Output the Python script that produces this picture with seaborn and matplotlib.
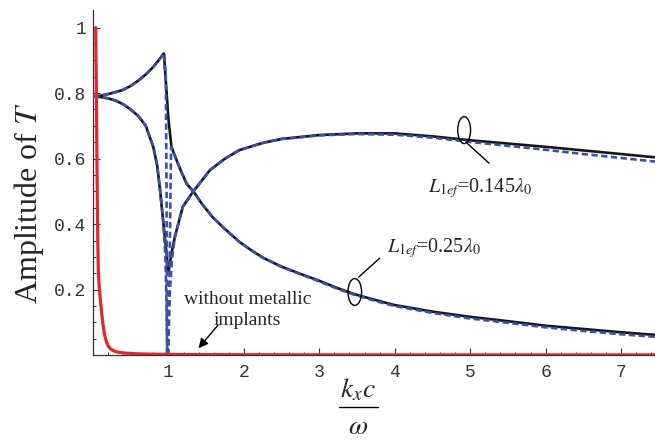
import seaborn as sns
import pandas as pd
import matplotlib.pyplot as plt
from matplotlib.patches import Ellipse
from matplotlib.lines import Line2D

# without metallic implants (red)
red_x = [0.035, 0.045, 0.052, 0.058, 0.064, 0.07, 0.08, 0.093, 0.105, 0.115, 0.13, 0.145,
         0.16, 0.18, 0.2, 0.225, 0.26, 0.3, 0.36, 0.45, 0.6, 0.8, 1.2, 2.0, 4.0, 7.45]
red_y = [1.0, 0.8, 0.6, 0.45, 0.34, 0.26, 0.215, 0.18, 0.152, 0.128, 0.097, 0.073,
         0.056, 0.039, 0.029, 0.021, 0.015, 0.011, 0.008, 0.006, 0.004, 0.003, 0.002, 0.0015, 0.001, 0.001]

# L1ef = 0.25 lambda0, solid black
a_x = [0, 0.1, 0.2, 0.3, 0.4, 0.5, 0.6, 0.7, 0.8, 0.87, 0.94, 0.97, 1.0, 1.04, 1.1, 1.17, 1.24,
       1.33, 1.45, 1.59, 1.75, 1.94, 2.1, 2.25, 2.5, 2.74, 3.0, 3.25, 3.47, 3.75, 4.0, 4.5, 5.0,
       5.38, 5.75, 6.0, 6.5, 7.0, 7.45]
a_y = [0.79, 0.792, 0.797, 0.803, 0.81, 0.822, 0.838, 0.857, 0.88, 0.9, 0.921, 0.82, 0.72, 0.636,
       0.6, 0.56, 0.524, 0.5, 0.46, 0.42, 0.385, 0.346, 0.32, 0.298, 0.27, 0.249, 0.227, 0.204,
       0.186, 0.168, 0.153, 0.133, 0.117, 0.107, 0.097, 0.09, 0.08, 0.07, 0.062]

# L1ef = 0.25 lambda0, dashed blue (two pieces)
a_blue1_x = [0, 0.1, 0.2, 0.3, 0.4, 0.5, 0.6, 0.7, 0.8, 0.87, 0.94, 0.965, 0.975, 0.98]
a_blue1_y = [0.79, 0.792, 0.797, 0.803, 0.81, 0.822, 0.838, 0.857, 0.88, 0.9, 0.921, 0.85, 0.5, 0.0]
a_blue2_x = [1.0, 1.035, 1.1, 1.17, 1.24, 1.33, 1.45, 1.59, 1.75, 1.94, 2.1, 2.25, 2.5, 2.74,
             3.0, 3.25, 3.47, 3.75, 4.0, 4.5, 5.0, 5.38, 5.75, 6.0, 6.5, 7.0, 7.45]
a_blue2_y = [0.0, 0.636, 0.6, 0.56, 0.524, 0.5, 0.46, 0.42, 0.385, 0.346, 0.32, 0.298, 0.27, 0.248,
             0.225, 0.202, 0.184, 0.165, 0.15, 0.129, 0.112, 0.102, 0.092, 0.085, 0.074, 0.064, 0.056]

# L1ef = 0.145 lambda0, solid black
b_x = [0, 0.1, 0.2, 0.3, 0.4, 0.5, 0.6, 0.7, 0.8, 0.85, 0.886, 0.93, 0.975, 1.0, 1.04, 1.085,
       1.19, 1.33, 1.55, 1.75, 1.94, 2.25, 2.5, 3.0, 3.5, 4.0, 4.5, 5.0, 5.5, 6.0, 6.5, 7.0, 7.45]
b_y = [0.79, 0.788, 0.784, 0.777, 0.766, 0.75, 0.73, 0.7, 0.635, 0.58, 0.51, 0.41, 0.31, 0.254,
       0.31, 0.361, 0.453, 0.5, 0.565, 0.6, 0.626, 0.648, 0.66, 0.672, 0.677, 0.677, 0.668,
       0.656, 0.646, 0.636, 0.625, 0.614, 0.604]

# L1ef = 0.145 lambda0, dashed blue (two pieces)
b_blue1_x = [0, 0.1, 0.2, 0.3, 0.4, 0.5, 0.6, 0.7, 0.8, 0.85, 0.886, 0.93, 0.96, 0.975, 0.985]
b_blue1_y = [0.79, 0.788, 0.784, 0.777, 0.766, 0.75, 0.73, 0.7, 0.635, 0.58, 0.51, 0.41, 0.3, 0.15, 0.0]
b_blue2_x = [0.99, 1.02, 1.05, 1.085, 1.19, 1.33, 1.55, 1.75, 1.94, 2.25, 2.5, 3.0, 3.5, 4.0,
             4.5, 5.0, 5.5, 6.0, 6.5, 7.0, 7.45]
b_blue2_y = [0.0, 0.2, 0.3, 0.361, 0.453, 0.5, 0.565, 0.6, 0.626, 0.648, 0.66, 0.671, 0.675, 0.673,
             0.664, 0.651, 0.639, 0.627, 0.614, 0.602, 0.591]

x_ticks = [1, 2, 3, 4, 5, 6, 7]
y_ticks = [0.2, 0.4, 0.6, 0.8, 1.0]
y_tick_labels = ["0.2", "0.4", "0.6", "0.8", "1"]

sns.set_theme(style="ticks")
plt.rcParams['font.family'] = ['Liberation Serif', 'DejaVu Serif']
plt.rcParams['mathtext.fontset'] = 'stix'

fig = plt.figure(figsize=(6.55, 4.44), dpi=100)
ax = fig.add_axes([0.142, 0.2, 0.858, 0.777])

RED = '#e8242b'
BLUE = '#3a50aa'
BLACK = '#161616'


def draw(xs, ys, color, dashed=False, z=2, lw=1.9):
    df = pd.DataFrame({"x": xs, "y": ys})
    kw = dict(dashes=(2.4, 1.3)) if dashed else {}
    sns.lineplot(data=df, x="x", y="y", sort=False, estimator=None, color=color,
                 linewidth=lw, ax=ax, zorder=z, **kw)


draw(a_x, a_y, BLACK)
draw(b_x, b_y, BLACK)
draw(a_blue1_x, a_blue1_y, BLUE, dashed=True, z=3)
draw(a_blue2_x, a_blue2_y, BLUE, dashed=True, z=3)
draw(b_blue1_x, b_blue1_y, BLUE, dashed=True, z=3)
draw(b_blue2_x, b_blue2_y, BLUE, dashed=True, z=3)
draw(red_x, red_y, RED, z=4, lw=2.3)

ax.set_xlim(0, 7.45)
ax.set_ylim(0, 1.053)
sns.despine(ax=ax)
for s in ['left', 'bottom']:
    ax.spines[s].set_linewidth(0.9)
    ax.spines[s].set_color('#333333')

ax.set_xticks(x_ticks, [str(v) for v in x_ticks], fontfamily='Liberation Mono',
              fontsize=13, color='#333333')
ax.set_yticks(y_ticks, y_tick_labels, fontfamily='Liberation Mono',
              fontsize=13, color='#333333')
ax.set_xticks([v / 5 for v in range(1, 38) if v % 5], minor=True)
ax.set_yticks([v / 20 for v in range(1, 21) if v % 4], minor=True)
ax.tick_params(which='major', direction='in', length=5, width=0.8, color='#333333')
ax.tick_params(which='minor', direction='in', length=2.5, width=0.7, color='#333333')
ax.tick_params(axis='x', which='major', pad=6)
ax.tick_params(axis='y', which='major', pad=5)

ax.set_xlabel("")
ax.set_ylabel(r'Amplitude of $T$', fontsize=23)
ax.yaxis.set_label_coords(-0.083, 0.44)

# x label as stacked fraction
fig.text(0.547, 0.122, r'$k_x c$', fontsize=20, ha='center', va='center')
fig.add_artist(Line2D([0.518, 0.577], [0.083, 0.083], color='black', lw=1.0))
fig.text(0.547, 0.038, r'$\omega$', fontsize=20, ha='center', va='center')

# annotations
ax.text(2.05, 0.138, "without metallic\nimplants", fontsize=14, ha='center', va='center',
        linespacing=1.3)
ax.annotate("", xy=(1.375, 0.015), xytext=(1.68, 0.098),
            arrowprops=dict(arrowstyle='-|>', color='black', lw=1.0, mutation_scale=14))

ax.add_patch(Ellipse((4.92, 0.687), 0.17, 0.082, fc='none', ec='black', lw=1.0, zorder=5))
ax.plot([4.96, 5.25], [0.647, 0.586], color='black', lw=1.0)
ax.text(5.13, 0.51, r'$\mathit{L}_{\mathit{1ef}}$=0.145$\mathit{\lambda}_{\mathit{0}}$',
        fontsize=14.5, ha='center', va='center')

ax.add_patch(Ellipse((3.47, 0.193), 0.18, 0.082, fc='none', ec='black', lw=1.0, zorder=5))
ax.plot([3.52, 3.80], [0.238, 0.296], color='black', lw=1.0)
ax.text(4.52, 0.327, r'$\mathit{L}_{\mathit{1ef}}$=0.25$\mathit{\lambda}_{\mathit{0}}$',
        fontsize=14.5, ha='center', va='center')

plt.savefig("out.png", dpi=100)
